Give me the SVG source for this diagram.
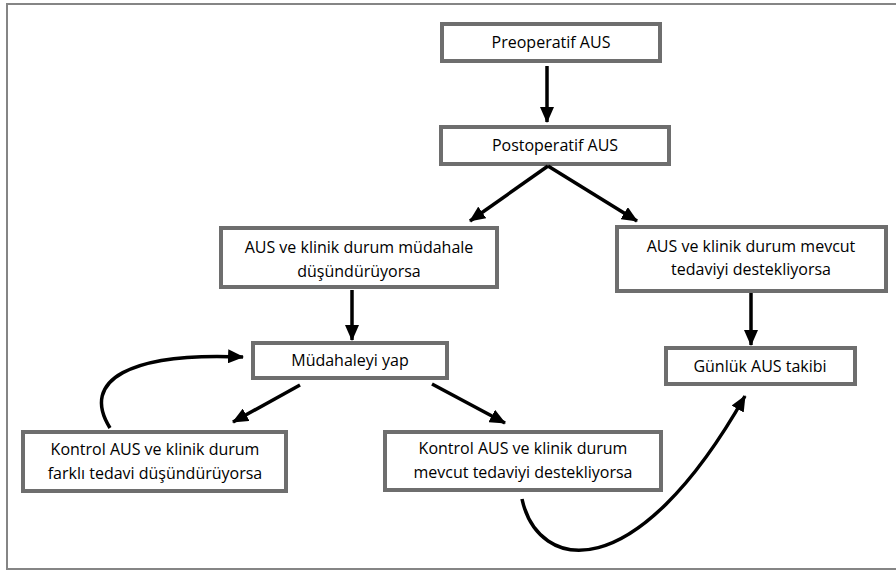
<svg xmlns="http://www.w3.org/2000/svg" width="896" height="573" viewBox="0 0 896 573">
<defs>
<marker id="ah" markerUnits="userSpaceOnUse" markerWidth="16" markerHeight="14" refX="15" refY="7" orient="auto">
<path d="M0,0 L16,7 L0,14 z" fill="#000"/>
</marker>
<style>
.box{fill:#fff;stroke:#6e6e6e;stroke-width:4}
.t{font-family:"Open Sans","Noto Sans","DejaVu Sans",sans-serif;font-size:16px;fill:#000;text-anchor:middle}
.c{fill:none;stroke:#000;stroke-width:3.5;marker-end:url(#ah)}
</style>
</defs>
<rect x="0" y="0" width="896" height="573" fill="#fff"/>
<path d="M900,4 H7 V569 H900" fill="none" stroke="#858585" stroke-width="2"/>
<g id="n1"><rect class="box" x="442" y="24" width="218" height="37"/><text class="t" x="551" y="48">Preoperatif AUS</text></g>
<g id="n2"><rect class="box" x="441" y="127" width="228" height="37"/><text class="t" x="555" y="151">Postoperatif AUS</text></g>
<g id="n3"><rect class="box" x="221" y="228" width="276" height="59"/><text class="t" x="359" y="253">AUS ve klinik durum müdahale</text><text class="t" x="359" y="277">düşündürüyorsa</text></g>
<g id="n4"><rect class="box" x="617" y="227" width="269" height="64"/><text class="t" x="751" y="252">AUS ve klinik durum mevcut</text><text class="t" x="751" y="275">tedaviyi destekliyorsa</text></g>
<g id="n5"><rect class="box" x="253" y="343" width="194" height="35"/><text class="t" x="350" y="366">Müdahaleyi yap</text></g>
<g id="n6"><rect class="box" x="666" y="348" width="189" height="36"/><text class="t" x="760" y="372">Günlük AUS takibi</text></g>
<g id="n7"><rect class="box" x="23" y="432" width="263" height="59"/><text class="t" x="155" y="455">Kontrol AUS ve klinik durum</text><text class="t" x="155" y="479">farklı tedavi düşündürüyorsa</text></g>
<g id="n8"><rect class="box" x="385" y="432" width="276" height="58"/><text class="t" x="523" y="454">Kontrol AUS ve klinik durum</text><text class="t" x="523" y="478">mevcut tedaviyi destekliyorsa</text></g>
<g id="connectors">
<path class="c" d="M547,66 V122"/>
<path class="c" d="M548,166 L470,221"/>
<path class="c" d="M548,166 L637,221"/>
<path class="c" d="M352,290 V340"/>
<path class="c" d="M751,293 V345"/>
<path class="c" d="M300,385 L233,422"/>
<path class="c" d="M432,384 L505,423"/>
<path class="c" d="M110,428 C80,380 130,352 243,357"/>
<path class="c" d="M522,499 C538,572 635,590 745,396"/>
</g>
</svg>
